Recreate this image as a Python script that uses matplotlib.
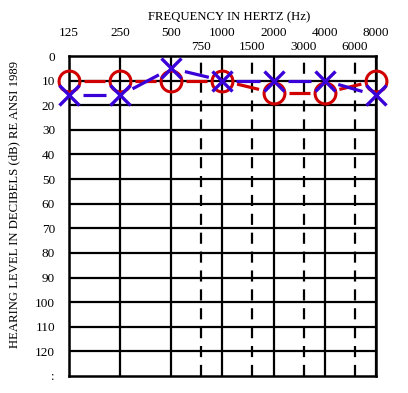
import matplotlib
matplotlib.use("Agg")
import matplotlib.pyplot as plt
import numpy as np
from matplotlib.transforms import blended_transform_factory

# данные аудиограммы
freqs = [125, 250, 500, 1000, 2000, 4000, 8000]
mid_freqs = [750, 1500, 3000, 6000]
right_ear = [10, 10, 10, 10, 15, 15, 10]   # красные кружки
left_ear = [16, 16, 5, 10, 10, 10, 16]      # синие крестики
db_ticks = [0, 10, 20, 30, 40, 50, 60, 70, 80, 90, 100, 110, 120]

red = "#d00000"
blue = "#3a00d8"
plt.rcParams["font.family"] = ["Liberation Serif", "DejaVu Serif"]

fig = plt.figure(figsize=(4.08, 3.93), dpi=100)
ax = fig.add_axes([0.169, 0.0433, 0.7525, 0.8142])
ax.set_xscale("log", base=2)
ax.set_xlim(125, 8000)
ax.set_ylim(130, 0)

# сетка
for f in freqs:
    ax.axvline(f, color="black", lw=1.6, zorder=1)
for f in mid_freqs:
    ax.axvline(f, color="black", lw=1.6, ls=(0, (5, 3.5)), zorder=1)
for d in db_ticks[1:]:
    ax.axhline(d, color="black", lw=1.6, zorder=1)
for s in ax.spines.values():
    s.set_linewidth(1.8)

ax.set_xticks([])
ax.set_xticks([], minor=True)
ax.set_yticks(db_ticks + [130])
ax.set_yticklabels([str(d) for d in db_ticks] + [":"], fontsize=9.5)
ax.tick_params(axis="y", length=0, pad=10)

# верхние подписи частот
tr = blended_transform_factory(ax.transData, fig.transFigure)
for f in freqs:
    ax.text(f, 1 - 33 / 393, str(f), transform=tr, ha="center", va="center", fontsize=9.5)
for f in mid_freqs:
    ax.text(f, 1 - 47 / 393, str(f), transform=tr, ha="center", va="center", fontsize=9.5)
fig.text(229 / 408, 1 - 17 / 393, "FREQUENCY IN HERTZ (Hz)", ha="center", va="center", fontsize=9.2)
fig.text(14 / 408, 1 - 204 / 393, "HEARING LEVEL IN DECIBELS (dB) RE ANSI 1989",
         rotation=90, ha="center", va="center", fontsize=9.2)


# соединительные отрезки с разрывами у маркеров
def draw_links(xs, ys, color, gap):
    pts = ax.transData.transform(np.column_stack([xs, ys]))
    inv = ax.transData.inverted()
    for p0, p1 in zip(pts[:-1], pts[1:]):
        v = p1 - p0
        n = np.hypot(*v)
        a = p0 + v / n * gap
        b = p1 - v / n * gap
        seg = inv.transform(np.array([a, b]))
        ax.plot(seg[:, 0], seg[:, 1], color=color, lw=2.3, solid_capstyle="butt",
                zorder=2, clip_on=False)


draw_links(freqs, right_ear, red, 15)
draw_links(freqs, left_ear, blue, 14)

ax.plot(freqs, right_ear, ls="none", marker="o", ms=15, mfc="none", mec=red, mew=2.2,
        zorder=3, clip_on=False)
ax.plot(freqs, left_ear, ls="none", marker="x", ms=14, mec=blue, mew=2.4,
        zorder=4, clip_on=False)

fig.savefig("out.png", dpi=100)
